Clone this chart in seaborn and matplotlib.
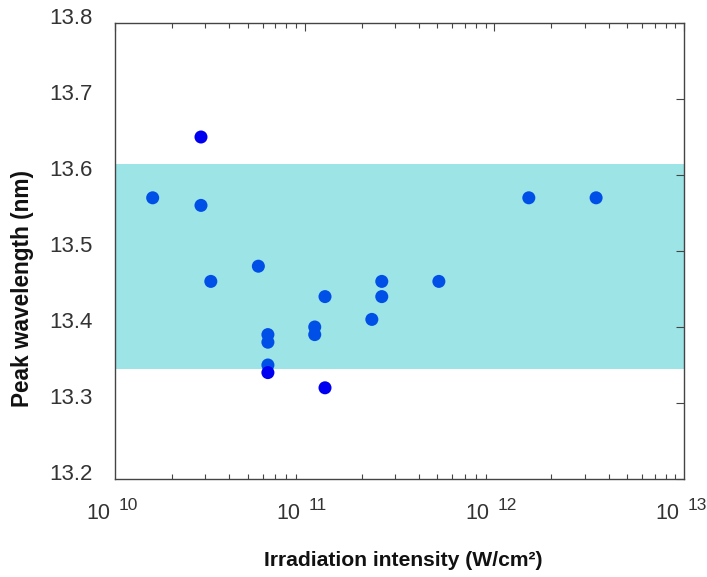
import matplotlib
matplotlib.use("Agg")
import matplotlib.pyplot as plt
import matplotlib.ticker as mticker
import matplotlib.transforms as mtransforms
import seaborn as sns
import pandas as pd

# Measured peak wavelengths versus irradiation intensity
intensity = [1.58e10, 2.84e10, 2.84e10, 3.2e10, 5.7e10,
             6.4e10, 6.4e10, 6.4e10, 6.4e10,
             1.13e11, 1.13e11, 1.28e11, 1.28e11,
             2.26e11, 2.55e11, 2.55e11, 5.1e11, 1.52e12, 3.44e12]
wavelength = [13.57, 13.65, 13.56, 13.46, 13.48,
              13.39, 13.38, 13.35, 13.34,
              13.40, 13.39, 13.44, 13.32,
              13.41, 13.46, 13.44, 13.46, 13.57, 13.57]
group = ["in", "out", "in", "in", "in",
         "in", "in", "in", "out",
         "in", "in", "in", "out",
         "in", "in", "in", "in", "in", "in"]

band_low, band_high = 13.345, 13.615
x_ticks = [1e10, 1e11, 1e12, 1e13]
x_exponents = ["10", "11", "12", "13"]
y_ticks = [13.2, 13.3, 13.4, 13.5, 13.6, 13.7, 13.8]

df = pd.DataFrame({"intensity": intensity, "wavelength": wavelength, "group": group})

sns.set_style("white")
plt.rcParams["font.family"] = ["Liberation Sans", "DejaVu Sans"]

fig = plt.figure(figsize=(7.07, 5.77), dpi=100)
ax = fig.add_axes([115 / 707, 1 - 479 / 577, (684 - 115) / 707, (479 - 23) / 577])

ax.axhspan(band_low, band_high, color="#9de4e6", lw=0, zorder=0)

sns.scatterplot(data=df, x="intensity", y="wavelength", hue="group",
                palette={"in": "#0050e8", "out": "#0000f0"},
                s=88, linewidth=0, legend=False, ax=ax, zorder=3)

ax.set_xscale("log")
ax.set_xlim(1e10, 1e13)
ax.set_ylim(13.2, 13.8)
ax.set_xticks(x_ticks)
ax.set_xticklabels(["10"] * len(x_ticks))
ax.xaxis.set_minor_locator(mticker.LogLocator(base=10, subs=range(2, 10), numticks=20))
ax.xaxis.set_minor_formatter(mticker.NullFormatter())
ax.set_yticks(y_ticks)
ax.set_yticklabels([f"{v:.1f}" for v in y_ticks])

ax.tick_params(axis="both", which="major", direction="in", length=6, width=0.8,
               color="#444444", labelcolor="#333333", top=True, right=True)
ax.tick_params(axis="x", which="major", pad=17, labelsize=15.5)
ax.tick_params(axis="y", which="major", pad=16, labelsize=16)
ax.tick_params(axis="x", which="minor", direction="in", length=3.5, width=0.8,
               color="#444444", top=True, bottom=True)

# y tick labels sit slightly above their ticks
shift_up = mtransforms.ScaledTranslation(0, 7 / 100, fig.dpi_scale_trans)
for lab in ax.get_yticklabels():
    lab.set_transform(lab.get_transform() + shift_up)

# x tick labels: base "10" left of the tick, exponent raised to its right
shift_left = mtransforms.ScaledTranslation(-4.5 / 100, 0, fig.dpi_scale_trans)
for lab in ax.get_xticklabels():
    lab.set_ha("right")
    lab.set_transform(lab.get_transform() + shift_left)

exp_offset = mtransforms.ScaledTranslation(3.5 / 100, -31.5 / 100, fig.dpi_scale_trans)
for xv, ex in zip(x_ticks, x_exponents):
    ax.text(xv, 0, ex, transform=ax.get_xaxis_transform() + exp_offset,
            ha="left", va="baseline", fontsize=12.5, color="#333333", clip_on=False)

for sp in ax.spines.values():
    sp.set_color("#444444")
    sp.set_linewidth(1.0)

ax.set_xlabel("Irradiation intensity (W/cm²)", fontsize=15.2, fontweight="bold",
              color="#111111")
ax.set_ylabel("Peak wavelength (nm)", fontsize=16.3, fontweight="bold",
              color="#111111")
ax.xaxis.set_label_coords(0.507, -0.179)
ax.xaxis.label.set_va("center")
ax.yaxis.set_label_coords(-0.1626, 0.418)
ax.yaxis.label.set_va("center")

fig.savefig("out.png", dpi=100)
